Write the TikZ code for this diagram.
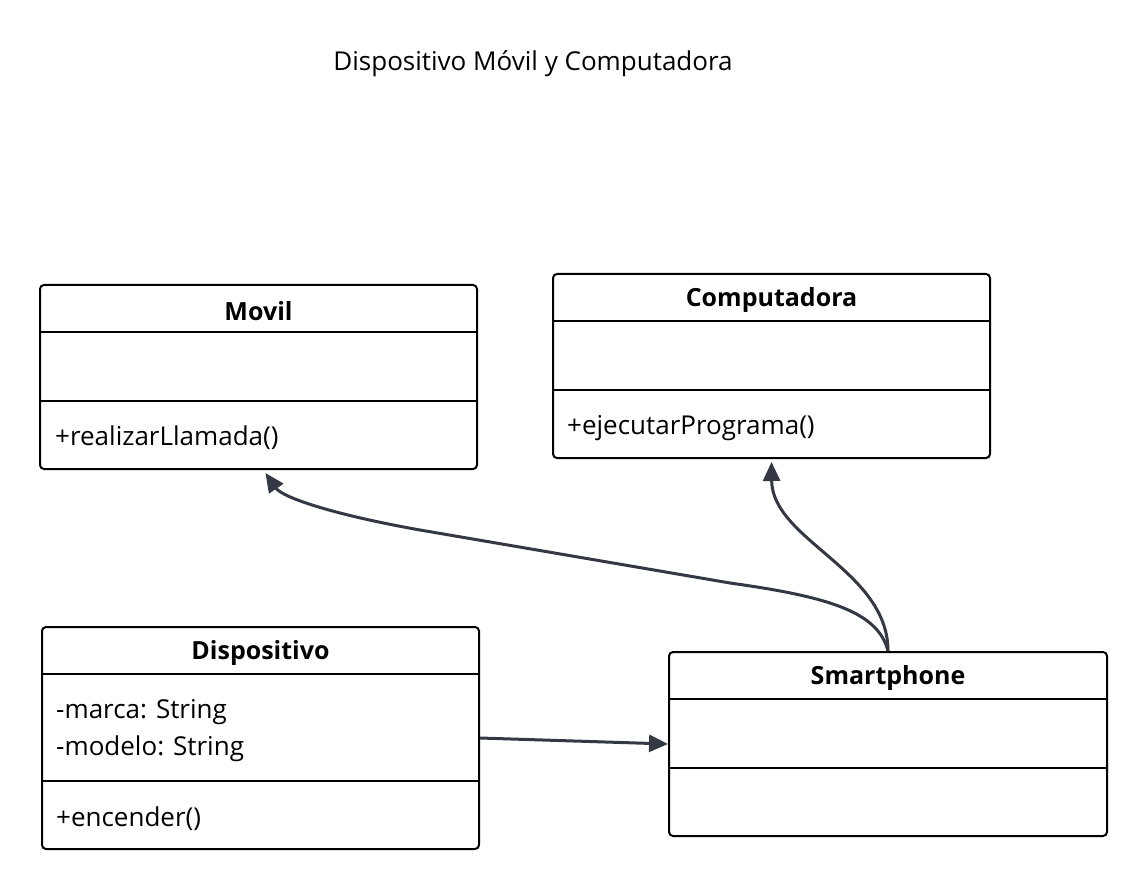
\documentclass[tikz,border=0pt]{standalone}
\usepackage{fontspec}
\setmainfont{Open Sans}
\usetikzlibrary{arrows.meta}
\definecolor{linkgray}{HTML}{333844}
\tikzset{
  classbox/.style={draw=black, line width=2pt, rounded corners=4pt, minimum width=437pt, inner sep=0pt},
  classname/.style={font=\fontsize{25}{30}\selectfont\bfseries},
  member/.style={anchor=west, inner sep=0pt, font=\fontsize{26}{31}\selectfont},
  divider/.style={draw=black, line width=2pt},
  link/.style={draw=linkgray, line width=3pt, -{Triangle[length=19pt,width=17pt]}}
}
\begin{document}
\begin{tikzpicture}[x=1pt,y=-1pt]
            \useasboundingbox (0,0) rectangle (1147,890);
            \node[font=\fontsize{26}{31}\selectfont] (title) at (533,64) {Dispositivo Móvil y Computadora};
            % Movil
            \node[classbox, minimum height=184pt] (movil) at (258.5,377) {};
            \node[classname] (movilname) at (258.5,311) {Movil};
            \draw[divider] (40,332) -- (477,332);
            \draw[divider] (40,401) -- (477,401);
            \node[member] (movilm1) at (55,438) {+realizarLlamada()};
            % Computadora
            \node[classbox, minimum height=184pt] (comp) at (771.5,366) {};
            \node[classname] (compname) at (771.5,300) {Computadora};
            \draw[divider] (553,321) -- (990,321);
            \draw[divider] (553,390) -- (990,390);
            \node[member] (compm1) at (567,428) {+ejecutarPrograma()};
            % Dispositivo
            \node[classbox, minimum height=222pt] (disp) at (260.5,738) {};
            \node[classname] (dispname) at (260.5,653) {Dispositivo};
            \draw[divider] (42,674) -- (479,674);
            \draw[divider] (42,781) -- (479,781);
            \node[member] (dispa1) at (56,712) {-marca: String};
            \node[member] (dispa2) at (56,749) {-modelo: String};
            \node[member] (dispm1) at (56,819) {+encender()};
            % Smartphone
            \node[classbox, minimum width=438pt, minimum height=184pt] (smart) at (888,744) {};
            \node[classname] (smartname) at (888,678) {Smartphone};
            \draw[divider] (669,699) -- (1107,699);
            \draw[divider] (669,768) -- (1107,768);
            % relaciones
            \draw[link] (disp.east) -- (smart.west);
            \draw[link] (smart.north) .. controls (878,612) and (830,597) .. (730,583) -- (420,530) .. controls (330,514) and (282,497) .. ([xshift=7pt,yshift=-3pt]movil.south);
            \draw[link] (smart.north) .. controls (888,570) and (772,540) .. ([yshift=-3pt]comp.south);
\end{tikzpicture}
\end{document}
